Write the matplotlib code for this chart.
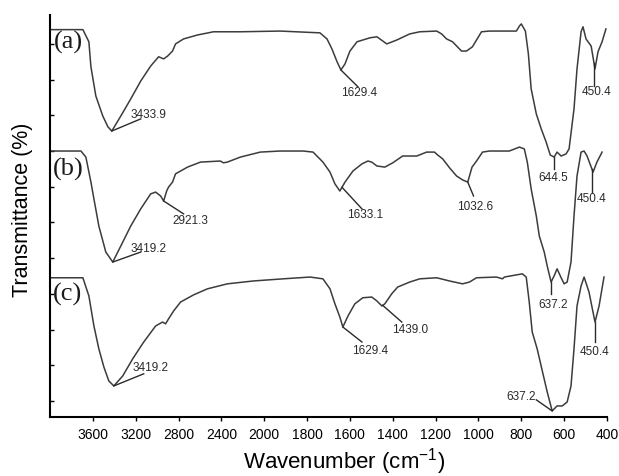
import numpy as np
import matplotlib
matplotlib.use("Agg")
import matplotlib.pyplot as plt

plt.rcParams["font.family"] = ["Liberation Sans", "DejaVu Sans"]
plt.rcParams["mathtext.fontset"] = "custom"
plt.rcParams["mathtext.rm"] = "Liberation Sans"
plt.rcParams["mathtext.it"] = "Liberation Sans:italic"

# spectrum (a)
wn_a = [3990, 3693, 3637, 3618, 3572, 3507, 3460, 3423, 3339, 3246, 3153, 3060,
        2986, 2939, 2902, 2856, 2828, 2753, 2623, 2474, 2223, 1926, 1740, 1707,
        1684, 1660, 1642, 1623, 1600, 1567, 1507, 1474, 1428, 1381, 1321, 1274,
        1195, 1172, 1149, 1121, 1079, 1056, 1028, 986, 949, 823, 809, 800, 781,
        767, 754, 730, 707, 684, 665, 647, 633, 614, 591, 577, 554, 540, 521,
        512, 498, 474, 456, 442, 423, 405]
t_a = [104.0, 104.0, 100.6, 93.6, 85.4, 79.8, 76.8, 75.6, 79.8, 84.6, 89.6, 93.8,
       96.4, 95.8, 96.6, 98.0, 100.0, 101.4, 102.5, 103.4, 103.4, 103.6, 103.1, 101.4,
       98.6, 95.0, 92.7, 94.4, 98.0, 100.6, 101.7, 102.0, 100.0, 101.1, 102.8, 103.4,
       103.6, 102.8, 101.4, 100.6, 98.0, 98.0, 99.2, 103.4, 103.6, 103.6, 105.0, 105.6, 103.6,
       97.2, 87.4, 80.4, 76.2, 72.5, 68.9, 68.3, 69.7, 68.6, 69.2, 70.6, 81.8, 93.0, 103.4,
       104.8, 101.4, 99.4, 93.0, 97.8, 100.6, 104.2]

# spectrum (b)
wn_b = [3990, 3711, 3665, 3618, 3590, 3544, 3479, 3414, 3339, 3246, 3153, 3060,
        3014, 2967, 2939, 2911, 2893, 2856, 2828, 2716, 2595, 2409, 2381, 2344,
        2223, 2037, 1926, 1819, 1772, 1726, 1693, 1670, 1647, 1623, 1586, 1544,
        1516, 1498, 1474, 1437, 1400, 1354, 1288, 1242, 1205, 1191, 1167, 1135,
        1102, 1074, 1050, 1030, 1009, 981, 949, 856, 809, 786, 772, 754, 730,
        716, 693, 679, 661, 647, 633, 614, 600, 586, 568, 554, 540, 521, 507,
        493, 465, 447, 423]
t_b = [70.0, 70.0, 68.3, 61.3, 56.6, 49.0, 41.7, 38.9, 43.4, 49.0, 53.8, 58.0,
       58.5, 57.4, 56.0, 58.8, 59.9, 61.3, 63.6, 65.5, 66.9, 67.2, 66.7, 66.9,
       68.3, 69.7, 70.0, 70.0, 69.7, 66.9, 64.1, 60.8, 58.8, 61.3, 64.4, 66.4,
       67.2, 66.9, 65.8, 65.5, 66.7, 68.6, 68.6, 69.7, 69.7, 68.9, 67.8, 65.3,
       63.0, 61.9, 61.3, 65.5, 67.2, 69.7, 70.0, 70.0, 71.1, 70.6, 66.9, 59.4, 51.8,
       46.2, 41.7, 37.8, 33.3, 35.0, 37.0, 34.5, 32.8, 33.3, 38.9, 51.8, 63.0, 69.7, 70.0,
       68.6, 64.1, 66.9, 69.7]

# spectrum (c)
wn_c = [3990, 3693, 3637, 3590, 3544, 3497, 3451, 3404, 3321, 3228, 3125, 3014,
        2949, 2921, 2893, 2846, 2781, 2660, 2530, 2344, 2102, 1912, 1786, 1726,
        1693, 1670, 1647, 1633, 1609, 1577, 1540, 1498, 1474, 1451, 1437, 1405,
        1377, 1321, 1274, 1195, 1135, 1074, 1042, 1009, 916, 888, 879, 795, 777,
        763, 749, 726, 702, 679, 656, 633, 609, 586, 568, 554, 540, 521, 507,
        484, 456, 437, 414]
t_c = [34.5, 34.5, 29.4, 21.0, 14.6, 9.5, 5.6, 4.2, 7.0, 11.8, 16.5, 21.0,
       22.1, 21.6, 23.0, 25.2, 27.7, 29.7, 31.4, 32.8, 33.6, 34.2, 34.7, 34.2,
       31.4, 27.2, 23.5, 20.7, 23.8, 27.2, 28.9, 29.1, 28.0, 26.6, 27.2, 30.0,
       31.9, 33.3, 34.2, 34.5, 33.6, 32.8, 33.3, 34.5, 34.7, 34.2, 34.7, 35.6, 34.7,
       27.7, 19.3, 14.6, 8.4, 2.5, -2.8, -1.4, -1.4, -0.3, 4.2, 14.6, 26.6, 32.2, 34.7,
       30.5, 22.1, 26.6, 34.7]

spectra = {"a": (wn_a, t_a), "b": (wn_b, t_b), "c": (wn_c, t_c)}
sample_names = ["(a)", "(b)", "(c)"]
sample_t = [100.6, 65.0, 30.0]

x_ticks = [3600, 3200, 2800, 2400, 2000, 1800, 1600, 1400, 1200, 1000, 800, 600, 400]

# peak labels: spectrum, text, peak position, leader end (wn, t), text centre (wn, t)
peak_labels = [
    ("a", "3433.9", 3423, 3153, 79.0, 3079, 80.4),
    ("a", "1629.4", 1642, 1563, 88.0, 1558, 86.6),
    ("a", "644.5", 647, 647, 65.0, 651, 62.7),
    ("a", "450.4", 461, 461, 88.2, 451, 86.8),
    ("b", "2921.3", 2939, 2753, 52.4, 2688, 50.7),
    ("b", "3419.2", 3414, 3153, 41.7, 3079, 42.9),
    ("b", "1633.1", 1637, 1544, 53.8, 1530, 52.4),
    ("b", "1032.6", 1050, 1023, 57.4, 1014, 54.6),
    ("b", "637.2", 661, 661, 30.0, 651, 27.2),
    ("b", "450.4", 470, 470, 58.5, 470, 56.9),
    ("c", "3419.2", 3404, 3125, 7.6, 3060, 9.5),
    ("c", "1629.4", 1633, 1544, 16.5, 1507, 14.3),
    ("c", "1439.0", 1447, 1358, 22.1, 1321, 20.2),
    ("c", "637.2", 656, 730, 0.3, 800, 1.4),
    ("c", "450.4", 456, 456, 16.5, 456, 14.0),
]


def fwd(x):
    x = np.asarray(x, dtype=float)
    return np.where(x > 2000, 2000 + (x - 2000) / 2, x)


def inv(t):
    t = np.asarray(t, dtype=float)
    return np.where(t > 2000, 2000 + (t - 2000) * 2, t)


fig = plt.figure(figsize=(6.19, 4.77), dpi=100)
ax = fig.add_axes([50 / 619, 59 / 477, 557 / 619, 402 / 477])
ax.set_xscale("function", functions=(fwd, inv))

for key in ["a", "b", "c"]:
    wn, t = spectra[key]
    ax.plot(wn, t, color="#3c3c3c", lw=1.1)

for key, txt, tip, ex, ey, tx, ty in peak_labels:
    wn, t = spectra[key]
    tip_t = np.interp(tip, np.asarray(wn)[::-1], np.asarray(t)[::-1])
    ax.plot([tip, ex], [tip_t, ey], color="#2a2a2a", lw=1.0)
    ax.text(tx, ty, txt, ha="center", va="center", fontsize=8.5, color="#2a2a2a")

for name, ty in zip(sample_names, sample_t):
    ax.text(3832, ty, name, ha="center", va="center", fontsize=19,
            family=["Liberation Serif"], color="#1a1a1a")

ax.set_xlim(4000, 400)
ax.set_ylim(-4.5, 108.1)
ax.set_xticks(x_ticks)
ax.set_xticklabels([str(v) for v in x_ticks])
ax.xaxis.set_minor_locator(matplotlib.ticker.NullLocator())
ax.set_yticks(np.arange(0, 101, 10))
ax.set_yticklabels([])
ax.tick_params(axis="x", direction="out", length=3, width=1.0, labelsize=10, pad=4)
ax.tick_params(axis="y", direction="in", length=3, width=1.0)
for side in ["top", "right"]:
    ax.spines[side].set_visible(False)
for side in ["left", "bottom"]:
    ax.spines[side].set_linewidth(1.5)

fig.text(23 / 619, 1 - 210 / 477, "Transmittance (%)", rotation=90,
         ha="center", va="center", fontsize=15.5)
fig.text(344 / 619, 1 - 462 / 477, "Wavenumber (cm$^{-1}$)",
         ha="center", va="center", fontsize=16)

fig.savefig("out.png", dpi=100)
